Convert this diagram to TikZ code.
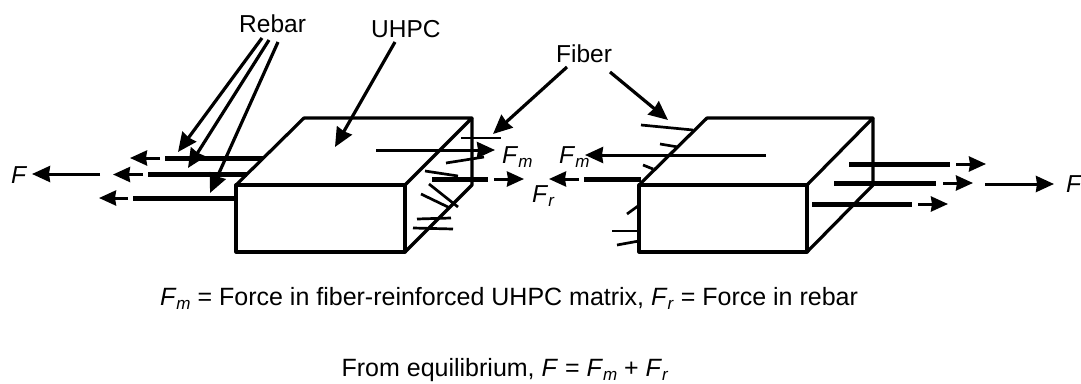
\documentclass[tikz,border=0pt]{standalone}
\usepackage{fontspec}
\setmainfont{Liberation Sans}
\usepackage{tikz}
\usetikzlibrary{arrows.meta,positioning,calc}
\newcommand{\Fsub}[1]{\textit{F}\raisebox{-.35ex}{\fontsize{17}{17}\selectfont\textit{#1}}}
\begin{document}
\begin{tikzpicture}[
  x=1pt,y=-1pt,
  lab/.style={inner sep=0pt,anchor=base west,font=\fontsize{24.5}{28}\selectfont},
  eqtext/.style={inner sep=0pt,anchor=base,font=\fontsize{25}{28}\selectfont},
  boxline/.style={line width=3.2pt,line join=round},
  fiberline/.style={line width=2.7pt},
  rebarline/.style={line width=5pt},
  pull/.style={line width=3pt,-{Stealth[length=17pt,width=15pt,inset=1pt]}},
  force/.style={line width=3pt,-{Stealth[length=18pt,width=16pt,inset=1pt]}},
  ptr/.style={line width=3.2pt,-{Stealth[length=19pt,width=17pt,inset=1pt]}}
]
\useasboundingbox (0,0) rectangle (1081,383);
% labels
\node[lab] (rebar) at (239,32) {Rebar};
\node[lab] (uhpc) at (371,37) {UHPC};
\node[lab] (fiber) at (556,62) {Fiber};
\node[lab] (fl) at (11,183) {\textit{F}};
\node[lab] (fr) at (1066,192) {\textit{F}};
\node[lab] (fm1) at (502,163) {\Fsub{m}};
\node[lab] (fr1) at (532,202) {\Fsub{r}};
\node[lab] (fm2) at (559,163) {\Fsub{m}};
\node[eqtext] (eq1) at (509,305) {\Fsub{m} = Force in fiber-reinforced UHPC matrix, \Fsub{r} = Force in rebar};
\node[eqtext] (eq2) at (505,376) {From equilibrium, \textit{F} = \Fsub{m} + \Fsub{r}};
% left block
\draw[boxline] (236,185) rectangle (405,252);
\draw[boxline] (236,185) -- (304,118) -- (472,118) -- (405,185);
\draw[boxline] (472,118) -- (472,185) -- (405,252);
% right block
\draw[boxline] (639,185) rectangle (807,252);
\draw[boxline] (639,185) -- (707,118) -- (873,118) -- (807,185);
\draw[boxline] (873,118) -- (873,185) -- (807,252);
% fibers
\draw[fiberline] (461,138) -- (501,138);
\draw[fiberline] (446,163) -- (484,157);
\draw[fiberline] (425,171) -- (458,176);
\draw[fiberline] (429,184) -- (458,207);
\draw[fiberline] (421,194) -- (450,208);
\draw[fiberline] (417,219) -- (451,218);
\draw[fiberline] (413,228) -- (453,229);
\draw[fiberline] (641,125) -- (693,130);
\draw[fiberline] (660,144) -- (678,147);
\draw[fiberline] (643,165) -- (653,169);
\draw[fiberline] (627,214) -- (638,206);
\draw[fiberline] (612,231) -- (639,231);
\draw[fiberline] (617,245) -- (639,241);
% rebars and their pulls
\foreach \y/\p/\q/\r/\s in {158/165/263/160/130,174.5/148/247/143/113,198/133/236/128/99,179/584/641/579/549}{
  \draw[rebarline] (\q,\y) -- (\p,\y);
  \draw[pull] (\r,\y) -- (\s,\y);
}
\foreach \y/\p/\q/\r/\s in {164/849/950/956/986,183/834/936/943/973,204/812/912/918/948,179/432/488/494/524}{
  \draw[rebarline] (\p,\y) -- (\q,\y);
  \draw[pull] (\r,\y) -- (\s,\y);
}
% matrix forces
\coordinate (m1) at (376,150);
\coordinate (m1tip) at (495,150);
\coordinate (m2) at (766,155);
\coordinate (m2tip) at (585,155);
\draw[force] (m1) -- (m1tip);
\draw[force] (m2) -- (m2tip);
\coordinate (f1) at (100,174);
\coordinate (f1tip) at (32,174);
\coordinate (f2) at (985,184);
\coordinate (f2tip) at (1054,184);
\draw[force] (f1) -- (f1tip);
\draw[force] (f2) -- (f2tip);
% pointers
\coordinate (ra) at (262,38); \coordinate (rb) at (269,40); \coordinate (rc) at (278,42);
\coordinate (ta) at (178,152); \coordinate (tb) at (188,168); \coordinate (tc) at (210,193);
\draw[ptr] (ra) -- (ta); \draw[ptr] (rb) -- (tb); \draw[ptr] (rc) -- (tc);
\coordinate (ua) at (395,42); \coordinate (ub) at (335,147);
\draw[ptr] (ua) -- (ub);
\coordinate (fa) at (567,67); \coordinate (fb) at (493,134);
\coordinate (fc) at (610,72); \coordinate (fd) at (668,120);
\draw[ptr] (fa) -- (fb); \draw[ptr] (fc) -- (fd);
\end{tikzpicture}
\end{document}
